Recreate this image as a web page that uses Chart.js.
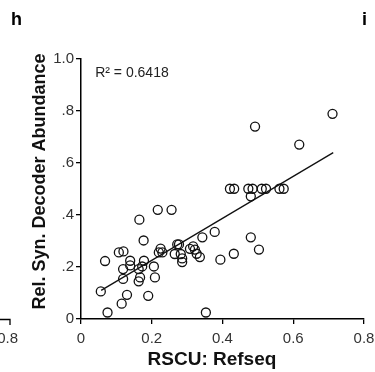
<!DOCTYPE html>
<html lang="en">
<head>
  <meta charset="UTF-8">
  <title>RSCU vs decoder abundance</title>
  <script src="https://cdn.jsdelivr.net/npm/chart.js"></script>
  <style>
    body { margin: 0; background: #fff; }
    canvas { display: block; }
  </style>
</head>
<body>
  <canvas id="grafico" width="375" height="372"></canvas>

  <script>
    // RSCU (Refseq) vs relative synonymous decoder abundance
    const rscu = [0.056, 0.068, 0.075, 0.107, 0.120, 0.119, 0.119, 0.115, 0.130, 0.139,
                  0.139, 0.165, 0.177, 0.178, 0.163, 0.173, 0.167, 0.163, 0.190, 0.217,
                  0.206, 0.209, 0.225, 0.220, 0.230, 0.256, 0.265, 0.272, 0.277, 0.282,
                  0.286, 0.286, 0.308, 0.317, 0.322, 0.327, 0.336, 0.343, 0.353, 0.378,
                  0.394, 0.421, 0.433, 0.432, 0.473, 0.485, 0.480, 0.480, 0.492, 0.503,
                  0.511, 0.523, 0.561, 0.573, 0.617, 0.711];
    const abundance = [0.106, 0.223, 0.025, 0.256, 0.260, 0.192, 0.154, 0.059, 0.093, 0.224,
                       0.206, 0.382, 0.302, 0.224, 0.192, 0.202, 0.160, 0.145, 0.089, 0.420,
                       0.202, 0.160, 0.271, 0.256, 0.256, 0.420, 0.250, 0.287, 0.287, 0.250,
                       0.233, 0.219, 0.270, 0.279, 0.267, 0.251, 0.238, 0.314, 0.025, 0.335,
                       0.228, 0.501, 0.501, 0.251, 0.501, 0.501, 0.472, 0.314, 0.740, 0.267,
                       0.501, 0.501, 0.501, 0.501, 0.671, 0.789];
    // linear fit end points
    const fitX = [0.057, 0.713];
    const fitY = [0.110, 0.640];
    const rSquared = '0.6418';

    const xTickLabels = ['0', '0.2', '0.4', '0.6', '0.8'];
    const yTickLabels = ['0', '.2', '.4', '.6', '.8', '1.0'];

    const font = '"Liberation Sans", Arial, sans-serif';

    // panel letters, the R² note and the edge of the neighbouring panel
    const extras = {
      id: 'extras',
      afterDraw(chart) {
        const c = chart.ctx, x = chart.scales.x, y = chart.scales.y;
        c.save();
        c.fillStyle = '#000';
        c.font = 'bold 18px ' + font;
        c.textBaseline = 'alphabetic';
        c.textAlign = 'left';
        c.fillText('h', 11, 25);
        c.fillText('i', 362, 25);

        c.font = '14px ' + font;
        c.fillStyle = '#222';
        c.textBaseline = 'middle';
        c.fillText('R² = ' + rSquared, x.getPixelForValue(0.04), y.getPixelForValue(0.947));

        c.font = '15px ' + font;
        c.fillStyle = '#333';
        c.textAlign = 'right';
        c.fillText('0.8', 18, 339);
        c.strokeStyle = '#000';
        c.lineWidth = 1.3;
        c.beginPath();
        c.moveTo(0, 319.5);
        c.lineTo(10, 319.5);
        c.lineTo(10, 325);
        c.stroke();
        c.restore();
      }
    };

    const ctx = document.getElementById('grafico').getContext('2d');
    new Chart(ctx, {
      type: 'scatter',
      data: {
        datasets: [
          {
            data: rscu.map((v, i) => ({ x: v, y: abundance[i] })),
            pointRadius: 4.5,
            pointHoverRadius: 4.5,
            borderWidth: 1.3,
            borderColor: '#111',
            backgroundColor: 'rgba(0,0,0,0)'
          },
          {
            data: fitX.map((v, i) => ({ x: v, y: fitY[i] })),
            showLine: true,
            pointRadius: 0,
            borderWidth: 1.3,
            borderColor: '#111'
          }
        ]
      },
      options: {
        responsive: false,
        animation: false,
        layout: { padding: { left: 0, right: 11, top: 59, bottom: 0 } },
        plugins: { legend: { display: false }, tooltip: { enabled: false } },
        scales: {
          x: {
            type: 'linear', min: 0, max: 0.8,
            afterBuildTicks: s => { s.ticks = xTickLabels.map((_, i) => ({ value: i * 0.2 })); },
            afterFit: s => { s.height = 53; s.paddingLeft = 0; s.paddingRight = 0; },
            ticks: {
              callback: (v, i) => xTickLabels[i],
              font: { family: font, size: 15 }, color: '#333', padding: 6, maxRotation: 0
            },
            grid: { drawOnChartArea: false, tickLength: 5, color: '#000', lineWidth: 1.3 },
            border: { color: '#000', width: 1.5 },
            title: {
              display: true, text: 'RSCU: Refseq    ',
              font: { family: font, size: 19, weight: 'bold' }, color: '#111',
              padding: { top: 0, bottom: 1 }
            }
          },
          y: {
            type: 'linear', min: 0, max: 1,
            afterBuildTicks: s => { s.ticks = yTickLabels.map((_, i) => ({ value: i * 0.2 })); },
            afterFit: s => { s.width = 81; },
            ticks: {
              callback: (v, i) => yTickLabels[i],
              font: { family: font, size: 15 }, color: '#333', padding: 2
            },
            grid: { drawOnChartArea: false, tickLength: 5, color: '#000', lineWidth: 1.3 },
            border: { color: '#000', width: 1.5 },
            title: {
              display: true, text: '   Rel. Syn. Decoder Abundance',
              font: { family: font, size: 18, weight: 'bold' }, color: '#111',
              padding: { top: 29, bottom: 0 }
            }
          }
        }
      },
      plugins: [extras]
    });
  </script>
</body>
</html>
